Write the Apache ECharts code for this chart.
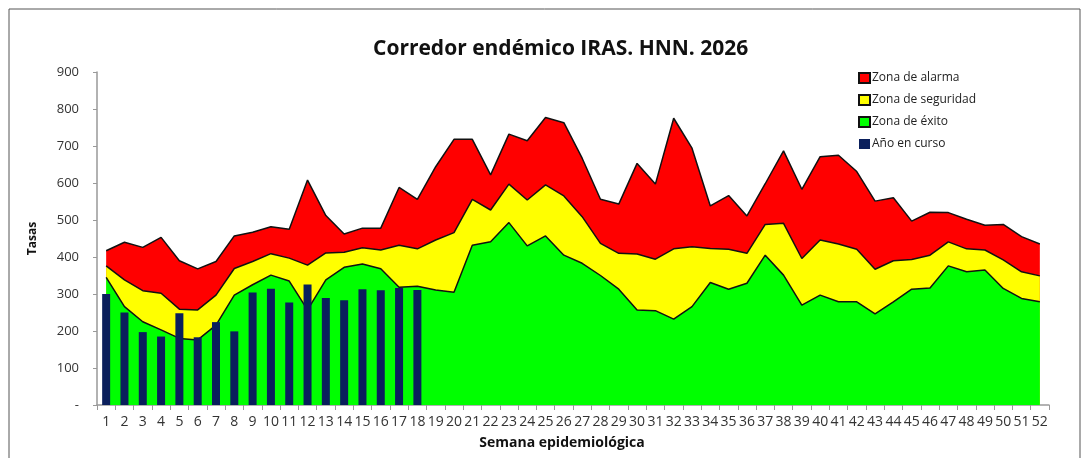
<!DOCTYPE html>
<html>
<head>
<meta charset="utf-8">
<script src="https://cdn.jsdelivr.net/npm/echarts@6/dist/echarts.min.js"></script>
<style>
  html, body { margin: 0; padding: 0; background: #fff; }
  #chart { width: 1089px; height: 458px; background: #fff; }
</style>
</head>
<body>
<div id="chart"></div>
<script>
// semanas epidemiológicas
const semanas = []
for (let i = 1; i <= 52; i++) semanas.push(String(i))

// límites superiores de cada zona
const zonaAlarma = [417, 440, 426, 453, 390, 368, 388, 457, 467, 482,
  475, 608, 512, 462, 478, 478, 588, 556, 644, 718,
  718, 622, 732, 714, 777, 763, 667, 556, 543, 653,
  597, 775, 694, 538, 566, 511, 598, 687, 583, 671,
  675, 631, 551, 560, 497, 521, 520, 502, 486, 488,
  455, 435]
const zonaSeguridad = [376, 338, 309, 302, 259, 257, 297, 369, 388, 409,
  397, 378, 411, 413, 425, 419, 432, 422, 446, 466,
  556, 527, 597, 554, 595, 565, 509, 437, 410, 408,
  394, 422, 428, 423, 421, 410, 488, 491, 396, 446,
  435, 421, 367, 390, 393, 405, 441, 422, 419, 392,
  360, 349]
const zonaExito = [345, 266, 225, 203, 180, 176, 216, 297, 325, 351,
  335, 257, 338, 372, 381, 368, 318, 321, 311, 305,
  432, 441, 493, 430, 457, 405, 383, 350, 313, 257,
  255, 232, 266, 331, 313, 329, 405, 351, 270, 297,
  279, 279, 246, 279, 313, 316, 376, 360, 365, 315,
  288, 279]
// año en curso (semanas 1 a 18)
const anioEnCurso = [300, 250, 197, 185, 248, 183, 224, 199, 304, 314,
  277, 326, 289, 283, 313, 310, 316, 311]

const chart = echarts.init(document.getElementById('chart'), null, { renderer: 'canvas' })

const areaSerie = (name, data, color) => {
  return {
    name: name,
    type: 'line',
    data: data,
    symbol: 'none',
    lineStyle: { color: '#111', width: 1.5 },
    itemStyle: { color: color, borderColor: '#111', borderWidth: 1 },
    areaStyle: { color: color, opacity: 1 }
  }
}

const option = {
  animation: false,
  backgroundColor: '#fff',
  textStyle: { fontFamily: 'Open Sans, sans-serif' },
  title: {
    text: 'Corredor endémico IRAS. HNN. 2026',
    left: 368,
    top: 34,
    textStyle: { fontSize: 21, fontWeight: 'bold', color: '#111' }
  },
  legend: {
    orient: 'vertical',
    left: 853,
    top: 67,
    itemWidth: 11,
    itemHeight: 10,
    itemGap: 10,
    icon: 'rect',
    textStyle: { fontSize: 12, color: '#222', padding: [0, 0, 0, -3] },
    data: ['Zona de alarma', 'Zona de seguridad', 'Zona de éxito', 'Año en curso']
  },
  graphic: [
    {
      type: 'rect',
      shape: { x: 9, y: 9, width: 1071, height: 470 },
      style: { fill: 'none', stroke: '#555', lineWidth: 1 },
      silent: true
    }
  ],
  grid: { left: 97, right: 40, top: 72, height: 333 },
  xAxis: {
    type: 'category',
    data: semanas,
    boundaryGap: true,
    name: 'Semana epidemiológica',
    nameLocation: 'middle',
    nameGap: 31,
    nameTextStyle: { fontSize: 14, fontWeight: 'bold', color: '#111', padding: [0, 22, 0, 0] },
    axisLine: { lineStyle: { color: '#999', width: 1.5 } },
    axisTick: { show: true, length: 5, lineStyle: { color: '#999' } },
    axisLabel: { interval: 0, fontSize: 14, color: '#333', margin: 10 }
  },
  yAxis: {
    type: 'value',
    min: 0,
    max: 900,
    interval: 100,
    name: 'Tasas',
    nameLocation: 'middle',
    nameGap: 58,
    nameTextStyle: { fontSize: 12, fontWeight: 'bold', color: '#111' },
    splitLine: { show: false },
    axisLine: { show: true, lineStyle: { color: '#999', width: 1.5 } },
    axisTick: { show: true, length: 4, lineStyle: { color: '#999' } },
    axisLabel: {
      fontSize: 13,
      color: '#333',
      margin: 18,
      formatter: (v) => (v === 0 ? '-' : String(v))
    }
  },
  series: [
    areaSerie('Zona de alarma', zonaAlarma, '#ff0000'),
    areaSerie('Zona de seguridad', zonaSeguridad, '#ffff00'),
    areaSerie('Zona de éxito', zonaExito, '#00ff00'),
    {
      name: 'Año en curso',
      type: 'bar',
      data: anioEnCurso,
      barWidth: 8,
      itemStyle: { color: '#0a1f5c' },
      z: 5
    }
  ]
}

chart.setOption(option)
</script>
</body>
</html>
